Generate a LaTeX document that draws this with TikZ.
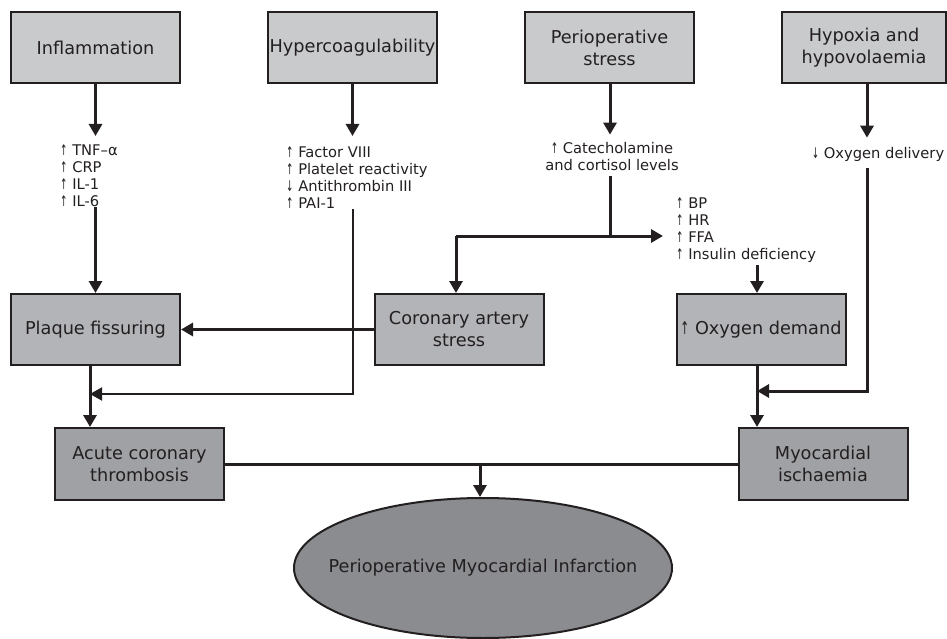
\documentclass[tikz,border=0pt]{standalone}
\usepackage{fontspec}
\usepackage{graphicx}
\setmainfont{DejaVu Sans}
\usetikzlibrary{shapes.geometric,arrows.meta}
\definecolor{ink}{HTML}{231F20}
\definecolor{boxA}{HTML}{C9CACC}
\definecolor{boxB}{HTML}{B3B4B7}
\definecolor{boxC}{HTML}{A0A1A4}
\definecolor{ellC}{HTML}{8B8C90}
\newcommand{\uarr}{\scalebox{0.6}[1]{↑}}
\newcommand{\darr}{\scalebox{0.6}[1]{↓}}
\begin{document}
\begin{tikzpicture}[x=1pt,y=-1pt,
  box/.style={draw=ink,line width=2pt,minimum width=169pt,minimum height=71pt,inner sep=2pt,align=center,font=\fontsize{17.7}{22}\selectfont,text=ink},
  topbox/.style={box,fill=boxA},
  midbox/.style={box,fill=boxB},
  lowbox/.style={box,fill=boxC},
  small/.style={inner sep=0pt,font=\fontsize{14.7}{17}\selectfont,text=ink},
  ln/.style={draw=ink,line width=3pt},
  thinln/.style={draw=ink,line width=2pt},
  arr/.style={ln,-{Triangle[width=13pt,length=12pt]}},
  thinarr/.style={thinln,-{Triangle[width=13pt,length=12pt]}},
]
\useasboundingbox (0,0) rectangle (947,639);
% top boxes
\node[topbox] (infl) at (95.5,47.5) {Inflammation};
\node[topbox] (hyper) at (352.5,47.5) {Hypercoagulability};
\node[topbox] (periop) at (609.5,47.5) {Perioperative\\stress};
\node[topbox,minimum width=164pt] (hypox) at (864,47.5) {Hypoxia and\\hypovolaemia};
% texts
\node[small,anchor=north west,align=left] (tinfl) at (60,145) {\uarr{} TNF–α\\\uarr{} CRP\\\uarr{} IL-1\\\uarr{} IL-6};
\node[small,anchor=north west,align=left] (thyper) at (286,147) {\uarr{} Factor VIII\\\uarr{} Platelet reactivity\\\darr{} Antithrombin III\\\uarr{} PAI-1};
\node[small,align=center] (tcat) at (612,157) {\uarr{} Catecholamine\\and cortisol levels};
\node[small] (toxdel) at (878,154) {\darr{} Oxygen delivery};
\node[small,anchor=north west,align=left] (tbp) at (676,198) {\uarr{} BP\\\uarr{} HR\\\uarr{} FFA\\\uarr{} Insulin deficiency};
% middle boxes
\node[midbox] (plaque) at (95.5,329.5) {Plaque fissuring};
\node[midbox] (cor) at (459,329.5) {Coronary artery\\stress};
\node[midbox] (oxd) at (761,329.5) {\uarr{} Oxygen demand};
% lower boxes
\node[lowbox,minimum height=72pt] (acute) at (139.5,464) {Acute coronary\\thrombosis};
\node[lowbox,minimum height=72pt] (myo) at (823,464) {Myocardial\\ischaemia};
\node[ellipse,draw=ink,line width=2pt,fill=ellC,minimum width=378pt,minimum height=140pt,inner sep=0pt,text=ink,font=\fontsize{17.7}{22}\selectfont] (pmi) at (483,568) {\makebox[0pt]{Perioperative Myocardial Infarction}};
% junctions
\coordinate (j1) at (90,394);
\coordinate (j2) at (610,236);
\coordinate (j3) at (456,236);
\coordinate (j5) at (757,391);
\coordinate (j6) at (480,464);
\coordinate (jx) at (867,0);
% connectors
\draw[arr,shorten >=9pt] (infl.south) -- (infl.south |- tinfl.north);
\draw[arr] (infl.south |- tinfl.south) -- (plaque.north);
\draw[arr,shorten >=11pt] (hyper.south) -- (hyper.south |- thyper.north);
\draw[thinarr] (hyper.south |- thyper.south) |- (j1);
\draw[arr,shorten >=8pt] (periop.south -| j2) -- (j2 |- tcat.north);
\draw[ln,shorten <=5pt] (j2 |- tcat.south) -- (j2);
\draw[arr,shorten >=13pt] (j3) -- (j2 -| tbp.west);
\draw[arr] (j3) -- (cor.north -| j3);
\draw[arr,shorten <=2pt] (tbp.south -| j5) -- (oxd.north -| j5);
\draw[arr,shorten >=9pt] (hypox.south -| jx) -- (toxdel.north -| jx);
\draw[arr,shorten <=7pt] (toxdel.south -| jx) |- (j5);
\draw[arr] (cor.west) -- (plaque.east);
\draw[arr] (plaque.south -| j1) -- (acute.north -| j1);
\draw[arr] (oxd.south -| j5) -- (myo.north -| j5);
\draw[ln] (acute.east) -- (myo.west);
\draw[arr] (j6) -- (pmi.north -| j6);
\end{tikzpicture}
\end{document}
